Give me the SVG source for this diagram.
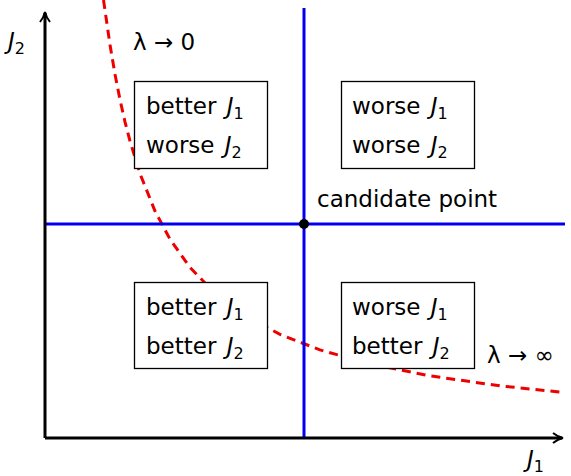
<svg xmlns="http://www.w3.org/2000/svg" width="571" height="476" viewBox="0 0 571 476">
<defs>
<style>
text{font-family:"DejaVu Sans","Liberation Sans",sans-serif;font-size:23px;fill:#000}
.i{font-style:italic}
.s{font-size:16px}
.box{fill:#fff;stroke:#000;stroke-width:1.3}
.axis{stroke:#000;stroke-width:3;fill:none}
.blue{stroke:#0000ee;stroke-width:3;fill:none}
.red{stroke:#ee0000;stroke-width:3;fill:none;stroke-dasharray:9 6}
</style>
<marker id="arr" viewBox="0 0 12 12" refX="10" refY="6" markerWidth="12" markerHeight="12" markerUnits="userSpaceOnUse" orient="auto">
<path d="M1,1 Q6,5 11,6 Q6,7 1,11" fill="none" stroke="#000" stroke-width="2"/>
</marker>
</defs>
<g id="connectors">
<path class="red" d="M103.5,0 L105,10.2 L110,44.8 L115,74.3 L120,99.7 L125,121.8 L130,141.2 L140,173.7 L155,211 L170,239.2 L190,267.5 L215,293.3 L245,315.6 L280,334.4 L320,349.9 L370,363.9 L430,375.9 L500,385.8 L563,392.4"/>
<line class="blue" x1="304" y1="8" x2="304" y2="438"/>
<line class="blue" x1="45" y1="224" x2="565" y2="224"/>
<line class="axis" x1="45" y1="438" x2="45" y2="13" marker-end="url(#arr)"/>
<line class="axis" x1="45" y1="438" x2="562" y2="438" marker-end="url(#arr)"/>
</g>
<g id="point"><circle cx="304" cy="224" r="5" fill="#000"/></g>
<g id="box-tl">
<rect class="box" x="134.5" y="81.5" width="133" height="87"/>
<text x="146" y="114">better <tspan class="i" dx="3">J</tspan><tspan class="s" dy="5">1</tspan></text>
<text x="146" y="153">worse <tspan class="i" dx="3">J</tspan><tspan class="s" dy="5">2</tspan></text>
</g>
<g id="box-tr">
<rect class="box" x="341.5" y="81.5" width="133" height="87"/>
<text x="352" y="114">worse <tspan class="i" dx="3">J</tspan><tspan class="s" dy="5">1</tspan></text>
<text x="352" y="153">worse <tspan class="i" dx="3">J</tspan><tspan class="s" dy="5">2</tspan></text>
</g>
<g id="box-bl">
<rect class="box" x="134.5" y="282.5" width="133" height="86"/>
<text x="146" y="315">better <tspan class="i" dx="3">J</tspan><tspan class="s" dy="5">1</tspan></text>
<text x="146" y="354">better <tspan class="i" dx="3">J</tspan><tspan class="s" dy="5">2</tspan></text>
</g>
<g id="box-br">
<rect class="box" x="341.5" y="282.5" width="133" height="86"/>
<text x="352" y="315">worse <tspan class="i" dx="3">J</tspan><tspan class="s" dy="5">1</tspan></text>
<text x="352" y="354">better <tspan class="i" dx="3">J</tspan><tspan class="s" dy="5">2</tspan></text>
</g>
<g id="labels">
<text x="317" y="207">candidate point</text>
<text x="133" y="50">λ → 0</text>
<text x="487" y="363">λ → ∞</text>
<text x="8" y="49"><tspan class="i">J</tspan><tspan class="s" dy="5">2</tspan></text>
<text x="527" y="467"><tspan class="i">J</tspan><tspan class="s" dy="5">1</tspan></text>
</g>
</svg>
